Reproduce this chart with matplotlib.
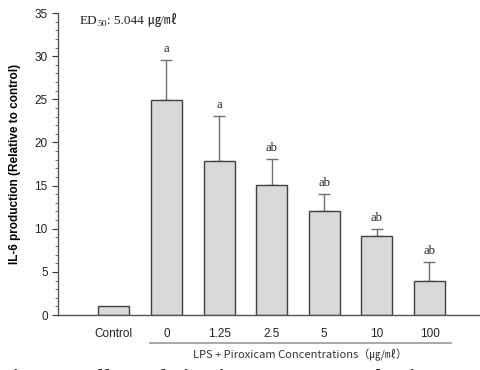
import matplotlib
matplotlib.use("Agg")
import matplotlib.pyplot as plt
from matplotlib.ticker import MultipleLocator

categories = ["Control", "0", "1.25", "2.5", "5", "10", "100"]
values = [1.0, 24.9, 17.8, 15.1, 12.1, 9.15, 3.9]
errors = [0.0, 4.6, 5.25, 2.95, 1.95, 0.85, 2.2]
letters = ["", "a", "a", "ab", "ab", "ab", "ab"]

W, H = 480, 370
fig = plt.figure(figsize=(W / 100, H / 100), dpi=100)
ax = fig.add_axes([0.121, 0.1486, 0.879, 0.8162])

x = list(range(len(categories)))
ax.bar(x, values, width=0.59, color="#d9d9d9", edgecolor="#404040",
       linewidth=1.0, zorder=2)
ax.errorbar(x[1:], values[1:], yerr=[[0] * (len(x) - 1), errors[1:]],
            fmt="none", ecolor="#707070", elinewidth=1.0, capsize=4.5,
            capthick=1.0, zorder=1)

for xi, v, e, lab in zip(x, values, errors, letters):
    if lab:
        ax.text(xi, v + e + 0.6, lab, ha="center", va="bottom",
                fontsize=9, family="Liberation Serif", color="#222222")

ax.set_xlim(-1.06, 6.96)
ax.set_ylim(0, 35)
ax.yaxis.set_major_locator(MultipleLocator(5))
ax.yaxis.set_minor_locator(MultipleLocator(1))
ax.set_xticks(x)
ax.set_xticklabels(categories, family="Liberation Sans", fontsize=8.5)
ax.tick_params(axis="y", labelsize=8.5, colors="#333333", direction="out",
               length=4, width=0.8)
ax.tick_params(axis="y", which="minor", length=2, width=0.6,
               colors="#555555")
ax.tick_params(axis="x", direction="in", length=3, width=0.8,
               colors="#555555", labelcolor="#222222", pad=9)
for lbl in ax.get_yticklabels():
    lbl.set_family("Liberation Sans")
    lbl.set_color("#222222")

for side in ("top", "right"):
    ax.spines[side].set_visible(False)
for side in ("left", "bottom"):
    ax.spines[side].set_color("#555555")
    ax.spines[side].set_linewidth(1.0)

ax.set_ylabel("IL-6 production (Relative to control)", family="Liberation Sans",
              fontweight="bold", fontsize=8.5, labelpad=10)

# ED50 annotation, laid out piece by piece on a common baseline
serif = ["Liberation Serif", "Noto Sans CJK KR"]
pieces = [("ED", 9.5, 0), ("50", 6.8, -2), (": 5.044 ", 9.5, 0),
          ("㎍/㎖", 9.5, 0)]
fig.canvas.draw()
renderer = fig.canvas.get_renderer()
x_px, base_px = 80, H - 24
for txt, size, dy in pieces:
    t = fig.text(x_px / W, (base_px + dy) / H, txt, family=serif,
                 fontsize=size, va="baseline", ha="left", color="#222222")
    x_px = t.get_window_extent(renderer).x1

# group bracket under the LPS-treated concentrations
fig.add_artist(plt.Line2D([150 / W, 451 / W], [1 - 343 / H] * 2,
                          transform=fig.transFigure, color="#999999", lw=1.2))
fig.text(300 / W, 1 - 355 / H,
         "LPS + Piroxicam Concentrations（㎍/㎖）",
         family=["Noto Sans CJK KR", "DejaVu Sans"], fontsize=8,
         ha="center", va="center", color="#333333")

# figure caption running off the bottom edge
fig.text(0.0, 1 - 384 / H, "Fig. 21.   Effects of Piroxicam on IL-6 production",
         family="Liberation Serif", fontweight="bold", fontsize=15,
         ha="left", va="baseline", color="#222222")

fig.savefig("out.png", dpi=100)
